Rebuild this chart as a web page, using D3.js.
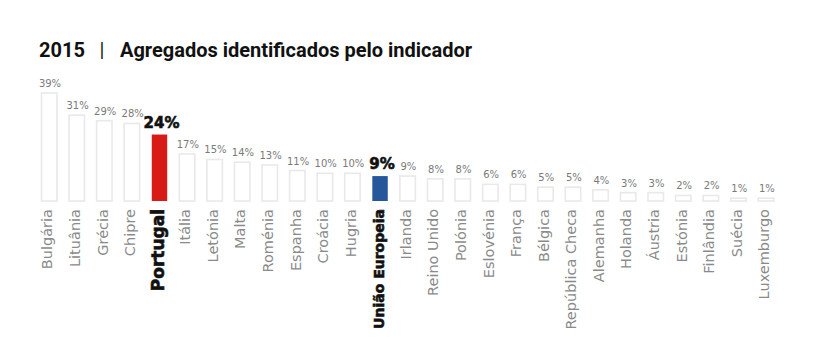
<!DOCTYPE html>
<html><head><meta charset="utf-8">
<script src="https://cdn.jsdelivr.net/npm/d3@7"></script>
<style>body{margin:0;background:#fff;}svg{display:block;}</style>
</head><body>
<svg id="c" width="814" height="355"></svg>
<script>
const countries = ["Bulgária","Lituânia","Grécia","Chipre","Portugal","Itália","Letónia","Malta","Roménia","Espanha","Croácia","Hugria","União Europeia","Irlanda","Reino Unido","Polónia","Eslovénia","França","Bélgica","República Checa","Alemanha","Holanda","Áustria","Estónia","Finlândia","Suécia","Luxemburgo"];
const values = [39,31,29,28,24,17,15,14,13,11,10,10,9,9,8,8,6,6,5,5,4,3,3,2,2,1,1];
const highlight = {"Portugal":"#d81b17","União Europeia":"#26579a"};
const titleYear = "2015";
const titleText = "Agregados identificados pelo indicador";

const svg = d3.select("#c");
const roboto = "Roboto, 'Open Sans', sans-serif";
const dejavu = "'DejaVu Sans', sans-serif";

const t = svg.append("g").attr("font-family",roboto).attr("font-weight",700).attr("font-size",20).attr("fill","#111");
t.append("text").attr("x",39).attr("y",57).text(titleYear);
t.append("text").attr("x",99.5).attr("y",57).attr("font-weight",400).attr("fill","#222").text("|");
t.append("text").attr("x",120).attr("y",57).text(titleText);

const step = 27.57, firstCenter = 49.2;
const x = d3.scaleBand().domain(countries)
  .range([firstCenter - step/2, firstCenter - step/2 + step*countries.length])
  .paddingInner(0.44).paddingOuter(0.22);
const y = d3.scaleLinear().domain([0,39]).range([201,93]);

const data = countries.map((c,i)=>({c,v:values[i],h:highlight[c]}));
const g = svg.append("g");
g.selectAll("rect").data(data).join("rect")
  .attr("x",d=>x(d.c)).attr("width",x.bandwidth())
  .attr("y",d=>y(d.v)).attr("height",d=>y(0)-y(d.v))
  .attr("fill",d=>d.h||"#fff")
  .attr("stroke",d=>d.h?"none":"#e9e9e9").attr("stroke-width",1.6);

const cx = d=>x(d.c)+x.bandwidth()/2;
g.selectAll("text.v").data(data).join("text").attr("class","v")
  .attr("x",d=>cx(d)+(d.h?2:0.8))
  .attr("y",d=>y(d.v)-(d.h?7:6))
  .attr("text-anchor","middle").attr("font-family",dejavu)
  .attr("font-size",d=>d.h?15:10)
  .attr("font-weight",d=>d.h?700:400)
  .attr("fill",d=>d.h?"#111":"#7a7a7a")
  .attr("stroke",d=>d.h?"#111":"none").attr("stroke-width",0.6)
  .text(d=>d.v+"%");

g.selectAll("text.c").data(data).join("text").attr("class","c")
  .attr("transform",d=>`translate(${cx(d)+(d.h?(d.c==="Portugal"?4.3:3.7):3.2)},209) rotate(-90)`)
  .attr("text-anchor","end").attr("font-family",dejavu)
  .attr("font-size",d=>d.h?(d.c==="Portugal"?17:14):14.5)
  .attr("font-weight",d=>d.h?700:400)
  .attr("fill",d=>d.h?"#111":"#8a8a8a")
  .attr("stroke",d=>d.h?"#111":"none").attr("stroke-width",0.6)
  .text(d=>d.c);
</script>
</body></html>
